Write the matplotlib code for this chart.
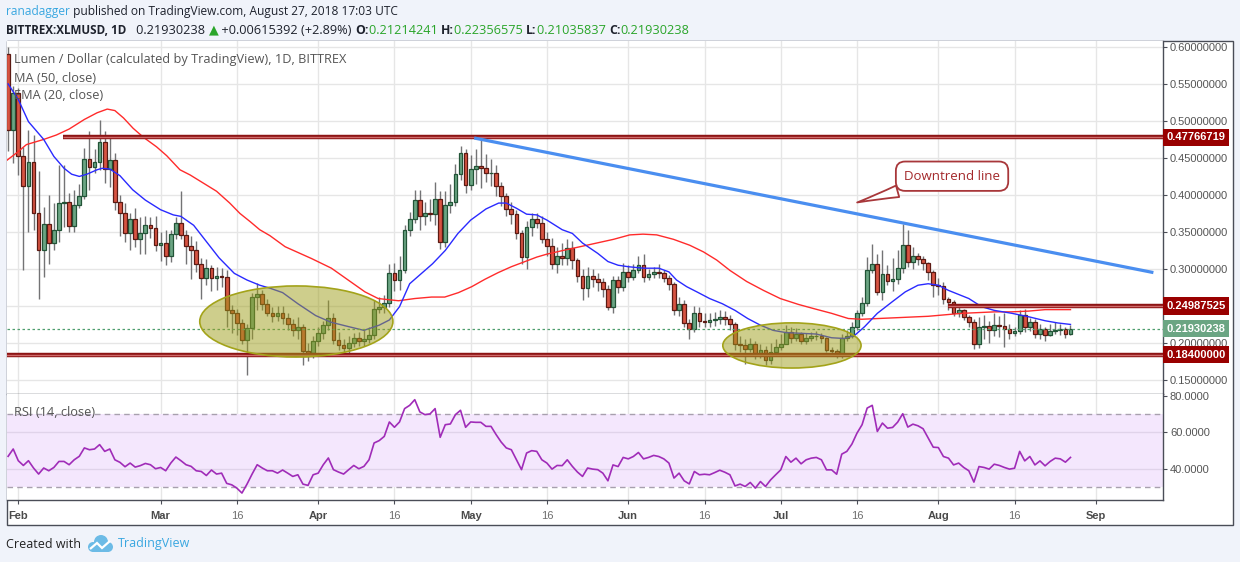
import matplotlib
matplotlib.use('Agg')
import numpy as np
import matplotlib.pyplot as plt
from matplotlib.patches import Ellipse, Rectangle, Polygon

W, H = 1240, 562

# day index 0 = 1 Feb 2018, first candle is 30 Jan
first_day = -2
first_open = 0.590
closes = [
    .488, .538, .453, .412, .444, .376, .325, .361, .335, .352,
    .389, .390, .358, .386, .399, .448, .438, .445, .472, .435,
    .447, .390, .375, .349, .367, .341, .348, .359, .355, .332,
    .335, .318, .347, .362, .346, .331, .326, .307, .288, .301,
    .288, .290, .289, .245, .240, .227, .204, .220, .262, .266,
    .252, .240, .236, .240, .234, .226, .218, .221, .189, .186,
    .203, .214, .224, .234, .204, .197, .193, .200, .206, .203,
    .205, .211, .246, .248, .254, .294, .285, .299, .353, .367,
    .393, .371, .376, .374, .394, .337, .387, .390, .428, .456,
    .414, .435, .439, .437, .429, .430, .412, .398, .381, .374,
    .348, .316, .357, .368, .362, .340, .331, .307, .317, .315,
    .328, .312, .291, .274, .290, .287, .282, .273, .249, .285,
    .275, .296, .289, .298, .305, .289, .293, .296, .295, .288,
    .280, .245, .253, .227, .219, .241, .230, .228, .231, .233,
    .235, .232, .225, .199, .197, .192, .198, .184, .191, .177,
    .188, .194, .199, .215, .206, .212, .203, .206, .209, .210,
    .206, .191, .189, .185, .206, .210, .222, .240, .254, .299,
    .307, .269, .293, .284, .286, .301, .333, .309, .318, .314,
    .308, .296, .278, .277, .260, .255, .240, .244, .235, .228,
    .198, .222, .2225, .217, .224, .2225, .219, .2135, .2157, .2374,
    .2216, .2284, .2126, .2193, .2103, .2157, .218, .219, .21214241, .21930238,
]
highs = [
    .600, .547, .545, .465, .488, .481, .432, .384, .400, .389,
    .441, .441, .402, .407, .415, .463, .487, .462, .501, .486,
    .477, .457, .400, .389, .375, .382, .370, .372, .370, .371,
    .350, .352, .352, .370, .405, .352, .345, .338, .315, .314,
    .305, .303, .301, .298, .251, .246, .232, .226, .268, .281,
    .272, .260, .248, .250, .250, .240, .232, .235, .226, .200,
    .210, .222, .230, .258, .240, .215, .205, .210, .214, .215,
    .218, .222, .258, .262, .265, .306, .308, .318, .360, .377,
    .407, .407, .390, .395, .418, .405, .405, .415, .442, .466,
    .462, .454, .462, .477, .455, .448, .440, .418, .402, .390,
    .380, .352, .365, .375, .375, .372, .350, .342, .330, .335,
    .340, .338, .315, .300, .303, .300, .295, .288, .278, .290,
    .290, .308, .305, .306, .318, .320, .300, .302, .306, .298,
    .292, .283, .262, .258, .232, .250, .248, .240, .240, .242,
    .244, .243, .238, .228, .210, .205, .206, .202, .198, .196,
    .200, .205, .212, .224, .222, .220, .215, .213, .215, .216,
    .214, .208, .195, .192, .212, .218, .228, .244, .262, .316,
    .334, .320, .326, .305, .315, .325, .361, .352, .330, .322,
    .318, .310, .298, .288, .282, .262, .258, .250, .246, .238,
    .232, .235, .238, .230, .240, .236, .240, .225, .222, .244,
    .246, .234, .232, .226, .222, .225, .228, .225, .222, .22356575,
]
lows = [
    .460, .443, .427, .298, .350, .353, .260, .289, .307, .325,
    .337, .357, .350, .350, .382, .395, .407, .430, .434, .416,
    .411, .380, .344, .337, .325, .330, .320, .320, .342, .324,
    .311, .305, .310, .340, .340, .307, .287, .296, .260, .278,
    .270, .272, .276, .222, .213, .211, .198, .157, .205, .245,
    .245, .236, .228, .230, .225, .218, .210, .205, .170, .176,
    .180, .196, .205, .218, .198, .190, .186, .185, .195, .196,
    .196, .200, .205, .240, .240, .248, .270, .272, .295, .345,
    .362, .352, .360, .365, .360, .327, .330, .375, .385, .420,
    .402, .407, .415, .410, .418, .412, .398, .385, .372, .361,
    .340, .306, .300, .345, .355, .335, .318, .300, .295, .305,
    .305, .300, .283, .258, .262, .275, .270, .262, .245, .240,
    .268, .270, .282, .285, .295, .283, .285, .288, .288, .282,
    .272, .238, .236, .222, .205, .215, .222, .221, .222, .223,
    .226, .224, .218, .190, .188, .172, .188, .178, .180, .170,
    .172, .186, .190, .198, .200, .202, .198, .198, .203, .204,
    .200, .188, .182, .180, .180, .202, .207, .218, .236, .250,
    .295, .265, .258, .278, .270, .280, .295, .302, .300, .305,
    .298, .285, .262, .265, .252, .245, .236, .235, .231, .222,
    .192, .193, .205, .200, .210, .208, .195, .205, .209, .212,
    .215, .216, .207, .205, .203, .209, .212, .211, .207, .21035837,
]

ema_days = [-2, 0, 2, 5, 7, 9, 10.5, 12, 13.5, 15.5, 16.5, 18, 20, 22.5, 25, 28, 30.5, 32, 34.5, 37,
            39.5, 42.5, 45, 47.5, 49.5, 52, 55, 58.5, 61.5, 65, 68, 71, 73, 75, 77, 79, 81.5, 84, 86.5, 89,
            92, 94.5, 96, 98, 100, 102, 104, 107, 109, 111, 114, 116, 118, 120, 123, 126, 128, 129.5, 131.5, 133.5,
            136, 138.5, 141, 143.5, 146, 148.5, 151, 154, 157, 160, 162.5, 164.5, 166.5, 169, 172, 174.5, 177, 179, 181, 183,
            187, 189.5, 192, 195.5, 199, 202, 204.5, 207]
ema_vals = [.550, .529, .499, .475, .452, .436, .428, .425, .428, .434, .436, .435, .426, .407, .393, .380, .373, .371, .359, .337,
            .315, .294, .285, .278, .274, .268, .253, .237, .228, .222, .217, .224, .231, .249, .280, .292, .307, .325, .348, .366,
            .381, .389, .389, .382, .374, .373, .366, .353, .348, .335, .321, .310, .305, .303, .301, .301, .296, .285, .276, .269,
            .260, .253, .244, .233, .224, .217, .214, .213, .212, .207, .206, .210, .222, .240, .256, .269, .278, .280, .278, .271,
            .260, .249, .244, .240, .235, .230, .227, .225]

ma_days = [-2.2, -0.3, 1.6, 5, 7.5, 10, 13, 15.5, 17.5, 19, 20.7, 22.6, 24.6, 27.2, 29.2, 31.8, 33.8, 36.4, 39, 41.6,
           43.6, 45.6, 47.5, 49.5, 52.5, 57.7, 61.6, 64.9, 68.2, 70.8, 74.8, 78, 81.3, 83.9, 86.6, 89.2, 91.8, 94.4, 97, 99.7,
           102, 104, 107.2, 110.5, 113.8, 117.1, 120.3, 122.9, 125.6, 128.9, 132.1, 134.8, 137.4, 140, 143.3, 146.6, 149.9, 153.5, 156.7, 160,
           163.3, 165.9, 169.2, 172.5, 175.7, 179, 182.3, 185.6, 188.9, 192.1, 195.4, 198.7, 202, 205.2, 207]
ma_vals = [.447, .457, .468, .475, .481, .489, .502, .511, .516, .514, .504, .490, .478, .465, .453, .434, .427, .416, .405, .389,
           .375, .364, .353, .345, .330, .314, .301, .285, .269, .260, .257, .260, .262, .262, .268, .276, .286, .295, .303, .310,
           .316, .320, .325, .330, .335, .340, .346, .347, .346, .340, .332, .323, .312, .298, .283, .271, .260, .252, .246, .240,
           .233, .232, .233, .234, .235, .236, .238, .240, .241, .242, .242, .243, .245, .245, .245]

# RSI(14), one value per candle from 30 Jan
rsi_vals = [
    46.9, 50.9, 44.5, 41.9, 44.5, 40.5, 37.2, 40.5, 39.0, 40.8,
    44.1, 44.1, 42.3, 45.0, 46.9, 51.5, 50.5, 50.9, 53.3, 49.6,
    50.9, 45.0, 43.6, 41.2, 43.2, 41.0, 41.8, 43.0, 42.3, 40.1,
    40.8, 39.0, 43.2, 46.5, 44.5, 42.3, 41.4, 39.0, 38.6, 36.4,
    39.4, 37.2, 37.7, 32.1, 31.3, 29.5, 26.8, 31.7, 37.2, 42.3,
    40.5, 39.0, 39.0, 37.7, 39.4, 37.7, 35.9, 36.8, 31.7, 31.0,
    36.8, 37.7, 42.3, 46.0, 39.6, 38.3, 37.2, 39.6, 41.9, 40.1,
    41.4, 45.0, 54.2, 55.5, 57.8, 65.7, 62.8, 65.7, 73.0, 74.8,
    77.9, 71.2, 69.7, 70.1, 73.0, 57.3, 64.2, 64.6, 69.7, 72.1,
    62.8, 65.7, 65.5, 65.5, 63.3, 63.3, 58.8, 54.7, 51.5, 50.5,
    45.0, 39.6, 48.7, 50.0, 49.6, 45.0, 43.2, 39.9, 41.9, 41.8,
    45.0, 41.4, 38.3, 35.9, 40.5, 39.9, 39.6,
    37.7, 33.5, 42.2, 41.3, 46.3, 45.5, 46.8, 49.0, 45.5, 46.3,
    47.4, 46.8, 45.5, 43.2, 35.0, 37.7, 33.5, 31.8, 38.6, 36.8,
    37.1, 36.8, 38.0, 39.3, 38.2, 36.8, 30.7, 31.7, 30.4, 32.6,
    29.5, 33.1, 30.4, 34.0, 36.8, 39.5, 46.8, 43.7, 45.9, 42.8,
    45.0, 45.9, 46.3, 45.0, 39.5, 39.5, 37.1, 48.1, 49.6, 53.6,
    59.6, 64.2, 73.3, 74.8, 60.5, 65.1, 62.3, 62.7, 65.6, 70.2,
    62.9, 64.5, 63.6, 62.0, 56.9, 51.9, 51.7, 46.8, 45.9, 42.2,
    43.2, 40.8, 39.0, 32.8, 41.3, 40.8, 39.9, 42.6, 41.9, 40.8,
    39.9, 40.4, 49.6, 44.4, 46.8, 42.2, 44.4, 41.7, 44.1, 45.9,
    45.5, 43.7, 46.3,
]

tick_days = [0, 28, 43, 59, 74, 89, 104, 120, 135, 150, 165, 181, 196, 212]
tick_labels = ['Feb', 'Mar', '16', 'Apr', '16', 'May', '16', 'Jun', '16', 'Jul', '16', 'Aug', '16', 'Sep']
price_ticks = [0.15, 0.20, 0.25, 0.30, 0.35, 0.40, 0.45, 0.50, 0.55, 0.60]

levels = [0.47766719, 0.24987525, 0.18400000]
level_start = [8.7, 183, -3]
last_price = 0.21930238
trend_days = [90, 223]
trend_vals = [0.4765, 0.2955]

XMIN, XMAX = -2.22, 225.2

plt.rcParams['font.family'] = ['Liberation Sans', 'DejaVu Sans']
SANS = ['Open Sans', 'DejaVu Sans']


def frect(x0, y0, x1, y1):
    return [x0 / W, 1 - y1 / H, (x1 - x0) / W, (y1 - y0) / H]


fig = plt.figure(figsize=(W / 100, H / 100), dpi=100, facecolor='#f0f3fa')
fig.add_artist(Rectangle((7 / W, 1 - 525 / H), 1226 / W, 484 / H, transform=fig.transFigure,
                         fc='white', ec='#4a4d57', lw=1, zorder=0))

ax_p = fig.add_axes(frect(7, 41, 1163, 394))
ax_r = fig.add_axes(frect(7, 394, 1163, 500))

for ax in (ax_p, ax_r):
    ax.set_facecolor('white')
    ax.set_xlim(XMIN, XMAX)
    for s in ('top', 'left'):
        ax.spines[s].set_visible(False)
    for s in ('right', 'bottom'):
        ax.spines[s].set_color('#4a4d57')
        ax.spines[s].set_linewidth(1)
    ax.yaxis.tick_right()
    ax.tick_params(axis='y', length=3, width=0.8, color='#4a4d57', labelsize=8,
                   labelcolor='#555555', pad=2)
    for d in tick_days:
        ax.axvline(d, color='#e6e6e6', lw=1, zorder=0)

# price pane
ax_p.set_ylim(0.131, 0.608)
ax_p.set_yticks(price_ticks)
# the 0.25 label sits under the 0.24987525 level box, as in the original
ax_p.set_yticklabels(['' if abs(v - 0.25) < 1e-9 else '%.8f' % v for v in price_ticks])
ax_p.set_xticks([])
for v in price_ticks:
    ax_p.axhline(v, color='#e6e6e6', lw=1, zorder=0)

days = np.arange(first_day, first_day + len(closes))
c = np.array(closes)
o = np.array([first_open] + closes[:-1])
hi = np.maximum(np.array(highs), np.maximum(o, c))
lo = np.minimum(np.array(lows), np.minimum(o, c))
up = c >= o

ax_p.vlines(days, lo, hi, color='#737375', lw=1, zorder=3)
ax_p.bar(days[up], (c - o)[up], bottom=o[up], width=0.74, color='#6ba583',
         edgecolor='#225437', lw=0.9, zorder=4)
ax_p.bar(days[~up], (o - c)[~up], bottom=c[~up], width=0.74, color='#d75442',
         edgecolor='#5b1a13', lw=0.9, zorder=4)

ax_p.plot(ma_days, ma_vals, color='#ff2b2b', lw=1, zorder=5)
ax_p.plot(ema_days, ema_vals, color='#2a2aff', lw=1, zorder=5)

for v, s in zip(levels, level_start):
    ax_p.plot([s, XMAX], [v, v], color='#8c1414', lw=3.2, solid_capstyle='butt', zorder=6)
    ax_p.plot([s, XMAX], [v, v], color='#cf6a6a', lw=1, solid_capstyle='butt', zorder=6)

ax_p.axhline(last_price, color='#4f9e6e', lw=0.9, ls=(0, (2, 2)), zorder=5)
ax_p.plot(trend_days, trend_vals, color='#4a8ef0', lw=2.3, zorder=6)

ax_p.add_patch(Ellipse((54.7, 0.229), 38, 0.096, fc=(0.62, 0.62, 0.1, 0.5),
                       ec='#a3a31a', lw=1.2, zorder=7))
ax_p.add_patch(Ellipse((152.2, 0.1966), 27.2, 0.061, fc=(0.62, 0.62, 0.1, 0.5),
                       ec='#a3a31a', lw=1.2, zorder=7))

ax_p.annotate('Downtrend line', xy=(164.5, 0.3888), xytext=(183.7, 0.4253),
              ha='center', va='center', fontsize=9.5, color='#a3282a',
              family=SANS, zorder=9,
              bbox=dict(boxstyle='round,pad=0.62,rounding_size=0.7', fc='white', ec='#a8373a', lw=1.3),
              arrowprops=dict(arrowstyle='wedge,tail_width=0.9,shrink_factor=0.45',
                              fc='white', ec='#a8373a', lw=1.3))

for v, col in [(levels[0], '#990000'), (levels[1], '#990000'), (last_price, '#6ba583'), (levels[2], '#990000')]:
    ax_p.text(1.003, v, '%.8f' % v, transform=ax_p.get_yaxis_transform(), ha='left', va='center',
              fontsize=8, fontweight='bold', color='white', zorder=10, clip_on=False,
              bbox=dict(boxstyle='square,pad=0.32', fc=col, ec='none'))

# RSI pane
ax_r.set_ylim(23, 81)
ax_r.axhspan(30, 70, color='#f4e7fd', lw=0, zorder=0)
for v in (40, 60):
    ax_r.axhline(v, color='#e0d3ea', lw=1, zorder=1)
for v in (30, 70):
    ax_r.axhline(v, color='#a8a0ae', lw=1, ls=(0, (4, 3)), zorder=2)
rsi_days = np.arange(first_day, first_day + len(rsi_vals))
ax_r.plot(rsi_days, rsi_vals, color='#a02cb8', lw=1.2, zorder=3)
ax_r.set_yticks([40, 60, 80])
ax_r.set_yticklabels(['40.0000', '60.0000', '80.0000'])
ax_r.set_xticks(tick_days)
ax_r.set_xticklabels(tick_labels)
ax_r.tick_params(axis='x', length=3, width=0.8, color='#4a4d57', labelsize=8, pad=5)
for lbl, txt in zip(ax_r.get_xticklabels(), tick_labels):
    if txt == '16':
        lbl.set_color('#6f6f6f')
    else:
        lbl.set_color('#4a4a4a')
        lbl.set_fontweight('bold')

# pane legends
leg = dict(fontsize=9.2, color='#555555', family=SANS, va='center', ha='left')
fig.text(14 / W, 1 - 60 / H, 'Lumen / Dollar (calculated by TradingView), 1D, BITTREX', zorder=2, **leg)
fig.text(14 / W, 1 - 78 / H, 'MA (50, close)', **leg)
fig.text(14 / W, 1 - 95 / H, 'EMA (20, close)', **leg)
fig.text(14 / W, 1 - 412 / H, 'RSI (14, close)', **leg)

# header lines
renderer = fig.canvas.get_renderer()


def chain(x, y, parts):
    for s, kw in parts:
        kw = dict(kw)
        size = kw.pop('size', 8.6)
        t = fig.text(x / W, 1 - y / H, s, va='center', ha='left', family=SANS, fontsize=size, **kw)
        x += t.get_window_extent(renderer=renderer).width


dark = '#1e222d'
green = '#2aa52a'
chain(6, 12, [('ranadagger', dict(color='#3aa7e0')),
              (' published on TradingView.com, August 27, 2018 17:03 UTC', dict(color=dark))])
chain(6, 30, [('BITTREX:XLMUSD, 1D', dict(color=dark, fontweight='bold', size=8.4)),
              ('   0.21930238 ', dict(color=dark, size=9.2)),
              ('\u25b2', dict(color=green, size=9.2)),
              (' +0.00615392 (+2.89%) ', dict(color=dark, size=9.2)),
              ('O:', dict(color=dark, fontweight='bold', size=8.8)),
              ('0.21214241 ', dict(color=green, size=9.2)),
              ('H:', dict(color=dark, fontweight='bold', size=8.8)),
              ('0.22356575 ', dict(color=green, size=9.2)),
              ('L:', dict(color=dark, fontweight='bold', size=8.8)),
              ('0.21035837 ', dict(color=green, size=9.2)),
              ('C:', dict(color=dark, fontweight='bold', size=8.8)),
              ('0.21930238', dict(color=green, size=9.2))])

# footer
fig.text(6 / W, 1 - 544 / H, 'Created with', fontsize=9, color='#222222',
         family=SANS, va='center', ha='left')
logo = '#6cbbe6'
for cx, cy, r in [(93, 547, 5), (101, 542, 7), (108, 547, 5)]:
    fig.add_artist(Ellipse((cx / W, 1 - cy / H), 2 * r / W, 2 * r / H, transform=fig.transFigure,
                           fc=logo, ec='none'))
fig.add_artist(Rectangle((93 / W, 1 - 552 / H), 15 / W, 6 / H, transform=fig.transFigure, fc=logo, ec='none'))
fig.add_artist(Polygon([(90 / W, 1 - 549 / H), (97 / W, 1 - 543 / H), (102 / W, 1 - 548 / H), (110 / W, 1 - 541 / H)],
                       closed=False, fill=False, ec='white', lw=1.6, transform=fig.transFigure))
fig.text(118 / W, 1 - 544 / H, 'TradingView', fontsize=9, color='#3aa7e0',
         family=SANS, va='center', ha='left')

fig.savefig('out.png', dpi=100, facecolor=fig.get_facecolor())
